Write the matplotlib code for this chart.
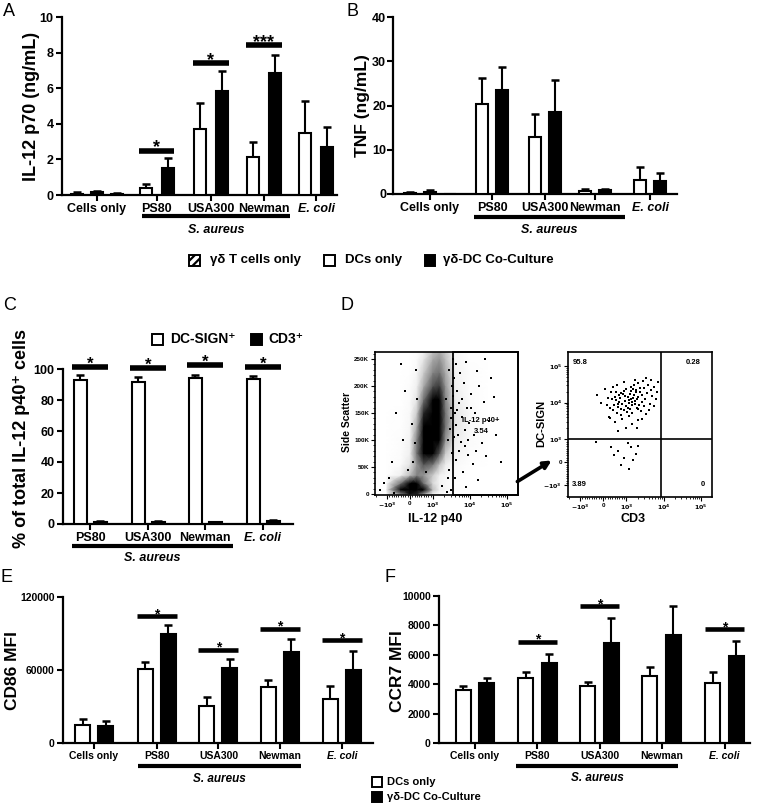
import numpy as np
import matplotlib
matplotlib.use('Agg')
import matplotlib.pyplot as plt
from matplotlib.patches import Rectangle, FancyArrowPatch
from matplotlib.lines import Line2D
import matplotlib.transforms as mtransforms

plt.rcParams['font.family'] = ['Liberation Sans', 'DejaVu Sans']
plt.rcParams['font.weight'] = 'bold'
plt.rcParams['mathtext.default'] = 'bf'
plt.rcParams['hatch.linewidth'] = 1.6

# ======================= DATA =======================
ab_categories = ['Cells only', 'PS80', 'USA300', 'Newman', 'E. coli']
ab_series = ['γδ T cells only', 'DCs only', 'γδ-DC Co-Culture']

# Panel A : IL-12 p70 (ng/mL)
a_gd_only = [0.08]            # only the "Cells only" condition
a_gd_only_err = [0.01]
a_dc_only = [0.08, 0.38, 3.70, 2.15, 3.50]
a_dc_only_err = [0.08, 0.24, 1.45, 0.80, 1.80]
a_coculture = [0.15, 1.52, 5.85, 6.85, 2.72]
a_coculture_err = [0.10, 0.55, 1.10, 1.00, 1.12]
a_sig_index = [1, 2, 3]
a_sig_labels = ['*', '*', '***']
a_sig_levels = [2.5, 7.4, 8.45]

# Panel B : TNF (ng/mL)
b_gd_only = [0.0]
b_gd_only_err = [0.0]
b_dc_only = [0.3, 20.4, 12.8, 0.75, 3.1]
b_dc_only_err = [0.2, 5.9, 5.2, 0.35, 3.1]
b_coculture = [0.5, 23.5, 18.5, 0.9, 2.9]
b_coculture_err = [0.3, 5.3, 7.3, 0.3, 1.8]

# Panel C : % of total IL-12 p40+ cells
c_categories = ['PS80', 'USA300', 'Newman', 'E. coli']
c_series = ['DC-SIGN⁺', 'CD3⁺']
c_dcsign = [92.9, 91.4, 94.4, 93.5]
c_dcsign_err = [3.1, 3.2, 1.7, 2.2]
c_cd3 = [1.5, 1.3, 1.0, 2.0]
c_cd3_err = [0.5, 0.5, 0.4, 0.6]
c_sig_labels = ['*', '*', '*', '*']
c_sig_levels = [101.5, 100.8, 102.6, 101.5]

# Panel D : flow cytometry
d_gate_label = 'IL-12 p40+'
d_gate_pct = '3.54'
d_gate_x = 3500
d_quadrant_pct = ['95.8', '0.28', '3.89', '0']   # UL, UR, LL, LR
d_quad_x = 8500
d_quad_y = 1000
# estimated event density of the SSC vs IL-12 p40 plot
d_grid_p40 = [-1000, -400, 0, 300, 600, 1000, 1500, 2200, 4000, 10000, 30000]
d_grid_ssc = [0, 8000, 20000, 35000, 55000, 75000, 100000, 125000, 150000,
              175000, 200000, 225000, 250000, 262000]
d_density = [
    [0.05, 0.45, 0.75, 0.70, 0.40, 0.10, 0.03, 0.00, 0.00, 0.00, 0.0],
    [0.15, 0.85, 1.00, 1.00, 0.80, 0.30, 0.10, 0.05, 0.02, 0.00, 0.0],
    [0.05, 0.50, 0.80, 0.80, 0.50, 0.20, 0.08, 0.04, 0.01, 0.00, 0.0],
    [0.00, 0.10, 0.30, 0.45, 0.40, 0.25, 0.10, 0.05, 0.02, 0.00, 0.0],
    [0.00, 0.03, 0.15, 0.40, 0.60, 0.50, 0.30, 0.12, 0.04, 0.01, 0.0],
    [0.00, 0.02, 0.10, 0.50, 0.85, 0.85, 0.60, 0.25, 0.08, 0.02, 0.0],
    [0.00, 0.02, 0.08, 0.45, 0.90, 1.00, 0.85, 0.40, 0.12, 0.03, 0.0],
    [0.00, 0.01, 0.05, 0.35, 0.85, 1.00, 0.90, 0.50, 0.15, 0.04, 0.0],
    [0.00, 0.01, 0.04, 0.25, 0.70, 0.95, 0.90, 0.50, 0.15, 0.04, 0.0],
    [0.00, 0.00, 0.03, 0.15, 0.50, 0.80, 0.80, 0.45, 0.12, 0.03, 0.0],
    [0.00, 0.00, 0.02, 0.10, 0.35, 0.60, 0.65, 0.40, 0.10, 0.02, 0.0],
    [0.00, 0.00, 0.01, 0.05, 0.25, 0.45, 0.50, 0.35, 0.08, 0.02, 0.0],
    [0.00, 0.00, 0.00, 0.03, 0.15, 0.35, 0.40, 0.30, 0.06, 0.01, 0.0],
    [0.00, 0.00, 0.00, 0.02, 0.10, 0.30, 0.35, 0.25, 0.05, 0.01, 0.0],
]
# sparse single events (IL-12 p40, side scatter)
d_sparse_events = [
    (3800, 215000), (4500, 190000), (5200, 168000), (3900, 150000), (6100, 142000),
    (4300, 128000), (7200, 118000), (3700, 105000), (5600, 96000), (8500, 160000),
    (11000, 185000), (9500, 132000), (14000, 150000), (18000, 200000), (13000, 110000),
    (24000, 170000), (32000, 135000), (21000, 95000), (45000, 180000), (6800, 205000),
    (4100, 240000), (7800, 245000), (16000, 228000), (5000, 80000), (9000, 72000),
    (4200, 62000), (12000, 55000), (28000, 70000), (6500, 40000), (3900, 30000),
    (17000, 25000), (8000, 12000), (52000, 110000), (70000, 60000), (38000, 215000),
    (26000, 250000), (4800, 110000), (6300, 175000), (10500, 160000), (3600, 182000),
    (5400, 225000), (8800, 100000), (15000, 80000), (7300, 88000), (4600, 155000),
    (-600, 150000), (-300, 100000), (-800, 60000), (-200, 190000), (100, 130000),
    (-900, 30000), (150, 60000), (-1500, 8000), (-1200, 20000), (2500, 30000),
    (3000, 8000), (2800, 45000), (2900, 120000), (3100, 160000), (3300, 200000),
    (2700, 230000), (3200, 75000), (250, 230000), (-400, 240000), (2600, 100000),
    (3000, 140000), (200, 95000), (300, 175000), (-100, 45000), (1800, 15000),
    (2400, 4000), (-700, 2000), (700, 40000), (3400, 250000), (2300, 175000),
]
# gated IL-12 p40+ events (CD3, DC-SIGN)
d_gated_events = [
    (820, 9500), (1150, 12000), (650, 7800), (1400, 8800), (950, 15000), (1700, 11000),
    (560, 11500), (1250, 6900), (2100, 14500), (780, 18000), (1050, 5600), (1900, 7400),
    (480, 8600), (1350, 20500), (2600, 10200), (720, 13200), (1600, 16500), (900, 6200),
    (2300, 19000), (600, 5200), (1200, 9800), (1800, 22500), (400, 12800), (2900, 8200),
    (1000, 24000), (1450, 5100), (700, 10600), (2000, 6600), (850, 16800), (1550, 13800),
    (520, 14200), (1100, 7300), (3200, 13000), (1300, 27000), (2400, 24500), (750, 4700),
    (1750, 9000), (950, 11200), (1250, 17500), (620, 9000), (2700, 16000), (1650, 30000),
    (880, 21000), (1950, 12300), (440, 6500), (3500, 18500), (1080, 14000), (1380, 10400),
    (2200, 8700), (680, 16000), (1850, 19800), (1150, 4300), (3000, 25500), (560, 19500),
    (2500, 5900), (980, 8100), (1500, 23000), (780, 6900), (2050, 34000), (1320, 12600),
    (300, 7000), (200, 13500), (-100, 10000), (250, 4200), (350, 19000), (150, 8500),
    (4200, 9500), (5000, 15000), (4600, 22000), (3800, 31000), (6200, 12500), (5500, 27000),
    (2800, 39000), (1700, 42000), (900, 36000), (600, 30000), (420, 26000), (3400, 4800),
    (4100, 6200), (2100, 3300), (1400, 2700), (800, 3500), (500, 2900), (300, 3800),
    (1000, 2100), (1900, 2000), (2700, 3600), (650, 1700), (5600, 8000), (6800, 19000),
    (7200, 36000), (4700, 41000), (-250, 16000), (100, 24000), (3300, 46000),
    (650, 500), (900, 200), (1300, 650), (1800, 350), (750, -100), (1100, 850),
    (480, 300), (1500, 100), (2100, 700), (-300, 900), (350, 650), (1200, -300),
]

# Panel E : CD86 MFI
ef_categories = ['Cells only', 'PS80', 'USA300', 'Newman', 'E. coli']
ef_series = ['DCs only', 'γδ-DC Co-Culture']
e_dc_only = [15000, 60800, 30500, 46400, 36000]
e_dc_only_err = [4900, 6000, 6900, 5400, 11200]
e_coculture = [13600, 89400, 61900, 75000, 60000]
e_coculture_err = [4700, 7400, 7100, 10100, 15500]
e_sig_index = [1, 2, 3, 4]
e_sig_labels = ['*', '*', '*', '*']
e_sig_levels = [104000, 76600, 94000, 84500]

# Panel F : CCR7 MFI
f_dc_only = [3610, 4450, 3880, 4560, 4060]
f_dc_only_err = [290, 400, 250, 590, 790]
f_coculture = [4060, 5460, 6820, 7380, 5940]
f_coculture_err = [390, 590, 1710, 1920, 990]
f_sig_index = [1, 2, 4]
f_sig_labels = ['*', '*', '*']
f_sig_levels = [6880, 9300, 7740]

# ======================= LAYOUT HELPERS =======================
W, H = 759, 808
fig = plt.figure(figsize=(W / 100, H / 100), dpi=100)


def fx(x):
    return x / W


def fy(y):
    return 1 - y / H


def px_axes(x0, y0, x1, y1):
    ax = fig.add_axes([fx(x0), fy(y1), (x1 - x0) / W, (y1 - y0) / H])
    ax.patch.set_alpha(0)
    return ax


def ftext(x, y, s, **kw):
    return fig.text(fx(x), fy(y), s, **kw)


def fsquare(cx, cy, size, face, hatch=None):
    r = Rectangle((fx(cx - size / 2), fy(cy + size / 2)), size / W, size / H,
                  transform=fig.transFigure, facecolor=face, edgecolor='black',
                  linewidth=1.4, hatch=hatch)
    fig.add_artist(r)


def bars(ax, xs, vals, errs, face, width, hatch=None):
    xs = np.asarray(xs, float)
    vals = np.asarray(vals, float)
    errs = np.asarray(errs, float)
    ax.bar(xs, vals, width=width, color=face, edgecolor='black', linewidth=1.5,
           hatch=hatch, zorder=3)
    ax.errorbar(xs, vals, yerr=[np.zeros_like(errs), errs], fmt='none', ecolor='black',
                elinewidth=1.5, capsize=3.2, capthick=1.8, zorder=2)


def style_bar_axes(ax, xlim, ylim, yticks, centers, labels, fs, ypad=2):
    ax.set_xlim(*xlim)
    ax.set_ylim(*ylim)
    for s in ['top', 'right']:
        ax.spines[s].set_visible(False)
    for s in ['left', 'bottom']:
        ax.spines[s].set_linewidth(1.6)
    ax.set_yticks(yticks)
    ax.set_xticks(centers)
    ax.set_xticklabels(labels)
    ax.tick_params(axis='both', width=1.5, length=4, labelsize=fs, pad=2)
    ax.tick_params(axis='y', pad=ypad)
    for lab in ax.get_xticklabels() + ax.get_yticklabels():
        lab.set_fontweight('bold')
        if lab.get_text() == 'E. coli':
            lab.set_style('italic')


def sig(ax, xc, half, y, label, lw=3.5, fs=12):
    ax.plot([xc - half, xc + half], [y, y], color='black', lw=lw,
            solid_capstyle='butt', clip_on=False, zorder=4)
    ax.annotate(label, (xc, y), xytext=(0, -1.5), textcoords='offset points',
                ha='center', va='baseline', fontsize=fs, fontweight='bold',
                annotation_clip=False)


def species_bracket(ax, x0, x1, y_px, label_y_px, fs=8.5, lw=3):
    tr = mtransforms.blended_transform_factory(ax.transData, fig.transFigure)
    fig.add_artist(Line2D([x0, x1], [fy(y_px), fy(y_px)], transform=tr, color='black',
                          lw=lw, solid_capstyle='butt'))
    fig.text((x0 + x1) / 2, fy(label_y_px), 'S. aureus', transform=tr, ha='center',
             va='center', fontsize=fs, fontweight='bold', style='italic')


# ======================= PANEL A =======================
axA = px_axes(62, 17, 337, 195)
a_centers = np.array([1.59, 4.30, 6.77, 9.18, 11.55])
dc_x = a_centers - 0.5
co_x = a_centers + 0.5
dc_x[0] = a_centers[0] - 0.91
co_x[0] = a_centers[0]
bars(axA, [a_centers[0] + 0.91], a_gd_only, a_gd_only_err, 'white', 0.55, hatch='////')
bars(axA, dc_x, a_dc_only, a_dc_only_err, 'white', 0.55)
bars(axA, co_x, a_coculture, a_coculture_err, 'black', 0.55)
style_bar_axes(axA, (0, 12.5), (0, 10), [0, 2, 4, 6, 8, 10], a_centers, ab_categories, 9)
for i, lab, lev in zip(a_sig_index, a_sig_labels, a_sig_levels):
    sig(axA, a_centers[i], 0.8, lev, lab, lw=4, fs=13)
species_bracket(axA, 3.64, 10.36, 216, 230, fs=9)
ftext(32, 106, 'IL-12 p70 (ng/mL)', rotation=90, ha='center', va='center', fontsize=13)

# ======================= PANEL B =======================
axB = px_axes(393, 17, 677, 194)
b_centers = np.array([1.85, 4.95, 7.60, 10.10, 12.85])
dc_x = b_centers - 0.5
co_x = b_centers + 0.5
dc_x[0] = b_centers[0] - 1.0
co_x[0] = b_centers[0]
bars(axB, [b_centers[0] + 1.0], b_gd_only, b_gd_only_err, 'white', 0.6, hatch='////')
bars(axB, dc_x, b_dc_only, b_dc_only_err, 'white', 0.6)
bars(axB, co_x, b_coculture, b_coculture_err, 'black', 0.6)
style_bar_axes(axB, (0, 14.2), (0, 40), [0, 10, 20, 30, 40], b_centers, ab_categories, 9,
               ypad=1)
species_bracket(axB, 4.05, 11.6, 217, 230, fs=9)
ftext(363, 106, 'TNF (ng/mL)', rotation=90, ha='center', va='center', fontsize=12.5)

# shared legend for A/B
leg_y = 260
for (sx, tx), name, face, hatch in zip([(194, 210), (329, 345), (430, 443)], ab_series,
                                       ['white', 'white', 'black'], ['////', None, None]):
    fsquare(sx, leg_y, 11, face, hatch)
    ftext(tx, leg_y, name, ha='left', va='center', fontsize=9.5)

# ======================= PANEL C =======================
axC = px_axes(63, 369, 293, 524)
c_centers = np.array([1.35, 4.25, 7.10, 10.0])
bars(axC, c_centers - 0.5, c_dcsign, c_dcsign_err, 'white', 0.65)
bars(axC, c_centers + 0.5, c_cd3, c_cd3_err, 'black', 0.65)
style_bar_axes(axC, (0, 11.5), (0, 100), [0, 20, 40, 60, 80, 100], c_centers, c_categories, 9)
for xc, lab, lev in zip(c_centers, c_sig_labels, c_sig_levels):
    sig(axC, xc, 0.92, lev, lab, lw=4, fs=12)
species_bracket(axC, 0.45, 8.5, 546, 558, fs=9)
ftext(22, 439, '% of total IL-12 p40⁺ cells', rotation=90, ha='center', va='center',
      fontsize=13)
for (sx, tx), name, face in zip([(157, 170), (256, 268)], c_series, ['white', 'black']):
    fsquare(sx, 339, 11, face)
    ftext(tx, 339, name, ha='left', va='center', fontsize=10)

# ======================= PANEL D =======================
def flow_axes(ax):
    for s in ax.spines.values():
        s.set_linewidth(1.2)
    ax.tick_params(which='major', length=3, width=0.8, labelsize=4.5, pad=1.2)
    ax.tick_params(which='minor', length=1.5, width=0.6)


log_minor = [m * 10 ** e for e in (3, 4) for m in range(2, 10)] + [-m * 1000 for m in (2,)]
lin_minor = [v for v in range(-900, 1000, 100) if v != 0]
xt = [-1000, 0, 1000, 10000, 100000]
xtl = ['$-10^3$', '0', '$10^3$', '$10^4$', '$10^5$']

axL = px_axes(375, 352, 518, 495)
axL.set_xscale('symlog', linthresh=1000, linscale=0.56)
axL.set_xlim(-2100, 2.0e5)
axL.set_ylim(-2000, 263000)
GX, GY = np.meshgrid(d_grid_p40, d_grid_ssc)
axL.pcolormesh(GX, GY, np.array(d_density), shading='gouraud', cmap='Greys', vmin=0, vmax=0.8,
               zorder=1)
sp = np.array(d_sparse_events, float)
axL.scatter(sp[:, 0], sp[:, 1], s=0.7, c='black', marker='s', linewidths=0, zorder=2)
axL.add_patch(Rectangle((d_gate_x, -2000), 2.0e5 - d_gate_x, 265000, fill=False,
                        edgecolor='black', lw=1.3, zorder=3, clip_on=False))
axL.text(20000, 136000, d_gate_label, ha='center', va='center', fontsize=5.5)
axL.text(20000, 116000, d_gate_pct, ha='center', va='center', fontsize=5.5)
axL.set_xticks(xt)
axL.set_xticklabels(xtl)
axL.set_xticks(log_minor + lin_minor, minor=True)
axL.set_xticklabels([], minor=True)
axL.set_yticks([0, 50000, 100000, 150000, 200000, 250000])
axL.set_yticklabels(['0', '50K', '100K', '150K', '200K', '250K'])
axL.set_yticks([v for v in range(10000, 260001, 10000) if v % 50000], minor=True)
flow_axes(axL)
ftext(347, 422, 'Side Scatter', rotation=90, ha='center', va='center', fontsize=7.5)
ftext(435, 519, 'IL-12 p40', ha='center', va='center', fontsize=9)

axR = px_axes(568, 352, 712, 497)
axR.set_xscale('symlog', linthresh=1000, linscale=0.56)
axR.set_yscale('symlog', linthresh=1000, linscale=0.56)
axR.set_xlim(-2100, 2.0e5)
axR.set_ylim(-2100, 2.4e5)
ge = np.array(d_gated_events, float)
axR.scatter(ge[:, 0], ge[:, 1], s=0.9, c='black', marker='s', linewidths=0, zorder=2)
axR.axvline(d_quad_x, color='black', lw=1.2)
axR.axhline(d_quad_y, color='black', lw=1.2)
axR.set_xticks(xt)
axR.set_xticklabels(xtl)
axR.set_xticks(log_minor + lin_minor, minor=True)
axR.set_xticklabels([], minor=True)
axR.set_yticks(xt)
axR.set_yticklabels(xtl)
axR.set_yticks(log_minor + lin_minor, minor=True)
axR.set_yticklabels([], minor=True)
flow_axes(axR)
for (px, py), txt, ha in zip([(0.03, 0.93), (0.92, 0.93), (0.03, 0.085), (0.95, 0.085)],
                             d_quadrant_pct, ['left', 'right', 'left', 'right']):
    axR.text(px, py, txt, transform=axR.transAxes, ha=ha, va='center', fontsize=5.5)
ftext(541, 423, 'DC-SIGN', rotation=90, ha='center', va='center', fontsize=8)
ftext(633, 519, 'CD3', ha='center', va='center', fontsize=9)
fig.add_artist(FancyArrowPatch((fx(515), fy(483)), (fx(554), fy(459)),
                               transform=fig.transFigure, arrowstyle='-|>',
                               mutation_scale=11, lw=2.6, color='black'))

# ======================= PANEL E =======================
axE = px_axes(63, 597, 373, 743)
e_centers = np.array([1.35, 4.07, 6.76, 9.43, 12.13])
bars(axE, e_centers - 0.5, e_dc_only, e_dc_only_err, 'white', 0.65)
bars(axE, e_centers + 0.5, e_coculture, e_coculture_err, 'black', 0.65)
style_bar_axes(axE, (0, 13.48), (0, 120000), [0, 60000, 120000], e_centers, ef_categories, 7.5)
for i, lab, lev in zip(e_sig_index, e_sig_labels, e_sig_levels):
    sig(axE, e_centers[i], 0.87, lev, lab, lw=3.3, fs=10)
species_bracket(axE, 3.26, 10.35, 766, 779, fs=8.5)
ftext(13, 671, 'CD86 MFI', rotation=90, ha='center', va='center', fontsize=12.5)

# ======================= PANEL F =======================
axF = px_axes(439, 596, 750, 743)
f_centers = np.array([1.53, 4.19, 6.83, 9.47, 12.15])
bars(axF, f_centers - 0.5, f_dc_only, f_dc_only_err, 'white', 0.65)
bars(axF, f_centers + 0.5, f_coculture, f_coculture_err, 'black', 0.65)
style_bar_axes(axF, (0, 13.23), (0, 10000), [0, 2000, 4000, 6000, 8000, 10000], f_centers,
               ef_categories, 7.5)
for i, lab, lev in zip(f_sig_index, f_sig_labels, f_sig_levels):
    sig(axF, f_centers[i], 0.83, lev, lab, lw=3.3, fs=10)
species_bracket(axF, 3.28, 10.17, 766, 778, fs=8.5)
ftext(398, 671, 'CCR7 MFI', rotation=90, ha='center', va='center', fontsize=12.5)

# legend for E/F
for cy, name, face in zip([782, 797], ef_series, ['white', 'black']):
    fsquare(377, cy, 10, face)
    ftext(387, cy, name, ha='left', va='center', fontsize=8)

# ======================= PANEL LETTERS =======================
for (x, y), letter in zip([(9, 12), (353, 12), (10, 305), (347, 305), (6, 577), (390, 577)],
                          'ABCDEF'):
    ftext(x, y, letter, ha='center', va='center', fontsize=13, fontweight='normal')

fig.savefig('out.png', dpi=100)
